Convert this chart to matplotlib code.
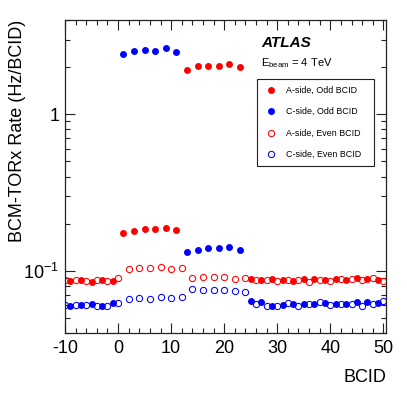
import matplotlib
matplotlib.use("Agg")
import matplotlib.pyplot as plt
from matplotlib.ticker import FixedLocator, NullFormatter, FuncFormatter, MultipleLocator
import numpy as np

plt.rcParams['font.family'] = ['Liberation Sans', 'DejaVu Sans']
plt.rcParams['mathtext.fontset'] = 'custom'
plt.rcParams['mathtext.rm'] = 'Liberation Sans'
plt.rcParams['mathtext.it'] = 'Liberation Sans:italic'
plt.rcParams['mathtext.bf'] = 'Liberation Sans:bold'
plt.rcParams['axes.unicode_minus'] = False

# ---- data ----
bcid_odd = list(range(-9, 50, 2))
bcid_even = list(range(-10, 51, 2))

a_odd = [0.0855, 0.0872, 0.0851, 0.0872, 0.0863,
         0.175, 0.179, 0.184, 0.184, 0.187, 0.182,
         1.93, 2.02, 2.04, 2.03, 2.10, 1.99,
         0.0889, 0.0876, 0.0880, 0.0876, 0.0863, 0.0889, 0.0889, 0.0876,
         0.0880, 0.0876, 0.0893, 0.0889, 0.0868]
c_odd = [0.0596, 0.0601, 0.0614, 0.0598, 0.0623,
         2.41, 2.52, 2.57, 2.55, 2.64, 2.49,
         0.132, 0.136, 0.139, 0.139, 0.142, 0.136,
         0.0644, 0.0633, 0.0596, 0.0601, 0.0610, 0.0614, 0.0614, 0.0618,
         0.0617, 0.0617, 0.0628, 0.0633, 0.0623]
a_even = [0.0868, 0.0872, 0.0855, 0.0868, 0.0855, 0.0902,
          0.103, 0.104, 0.1045, 0.106, 0.103, 0.104,
          0.090, 0.091, 0.091, 0.091, 0.089, 0.090,
          0.0868, 0.0872, 0.0855, 0.0876, 0.0876, 0.0851, 0.0872, 0.0863,
          0.0880, 0.0889, 0.0872, 0.0902, 0.0855]
c_even = [0.0604, 0.0604, 0.0604, 0.0592, 0.0598, 0.0623,
          0.0660, 0.0667, 0.0664, 0.0676, 0.0672, 0.0680,
          0.0764, 0.0757, 0.0755, 0.0755, 0.0746, 0.0732,
          0.0614, 0.0592, 0.0596, 0.0623, 0.0598, 0.0610, 0.0633, 0.0601,
          0.0614, 0.0617, 0.0598, 0.0614, 0.0638]

labels = ["A-side, Odd BCID", "C-side, Odd BCID", "A-side, Even BCID", "C-side, Even BCID"]

W, H = 407, 397
fig = plt.figure(figsize=(W / 100, H / 100), dpi=100)
ax = fig.add_axes([65 / W, 1 - 333 / H, 321 / W, 313 / H])

ms = 5.0
ax.plot(bcid_odd, a_odd, 'o', color='#ff0000', ms=ms, mec='#ff0000', mew=0, label=labels[0])
ax.plot(bcid_odd, c_odd, 'o', color='#0000ff', ms=ms, mec='#0000ff', mew=0, label=labels[1])
ax.plot(bcid_even, a_even, 'o', mfc='none', mec='#ff0000', ms=ms - 0.5, mew=0.75, label=labels[2])
ax.plot(bcid_even, c_even, 'o', mfc='none', mec='#0000ff', ms=ms - 0.5, mew=0.75, label=labels[3])

ax.set_yscale('log')
ax.set_xlim(-10, 50.5)
ax.set_ylim(0.04, 4.0)

ax.xaxis.set_major_locator(MultipleLocator(10))
ax.xaxis.set_minor_locator(MultipleLocator(2))
ax.yaxis.set_major_locator(FixedLocator([0.1, 1.0]))
minors = [m * d for d in (0.01, 0.1, 1.0) for m in range(2, 10)]
ax.yaxis.set_minor_locator(FixedLocator(minors))
ax.yaxis.set_minor_formatter(NullFormatter())
ax.yaxis.set_major_formatter(FuncFormatter(lambda v, p: '1' if abs(v - 1) < 1e-9 else r'$10^{-1}$'))

ax.tick_params(which='both', direction='in', top=True, right=True, labelsize=13, width=0.8, color='#222222')
ax.tick_params(which='major', length=7)
ax.tick_params(which='minor', length=3.5)
ax.tick_params(axis='x', pad=5)
ax.tick_params(axis='y', pad=4)
for s in ax.spines.values():
    s.set_linewidth(0.9)
    s.set_color('#222222')

fig.text(386 / W, 1 - 378 / H, 'BCID', ha='right', va='center', fontsize=13)
fig.text(18 / W, 1 - 20 / H, 'BCM-TORx Rate (Hz/BCID)', rotation=90, ha='center', va='top', fontsize=13)

fig.text(261 / W, 1 - 43 / H, 'ATLAS', fontsize=11, fontweight='bold', fontstyle='italic', ha='left', va='center')
fig.text(261 / W, 1 - 63 / H, r'E$_{\rm beam}$ = 4 TeV', fontsize=8, ha='left', va='center')

leg = ax.legend(loc='upper left', bbox_to_anchor=(0.597, 0.534, 0.366, 0.277), mode='expand',
                fontsize=6.4, frameon=True, fancybox=False, edgecolor='#222222', framealpha=1,
                borderpad=0.75, handlelength=1.75, handletextpad=0.8, labelspacing=1.4,
                borderaxespad=0, numpoints=1)
leg.get_frame().set_linewidth(0.8)

fig.savefig('out.png', dpi=100)
